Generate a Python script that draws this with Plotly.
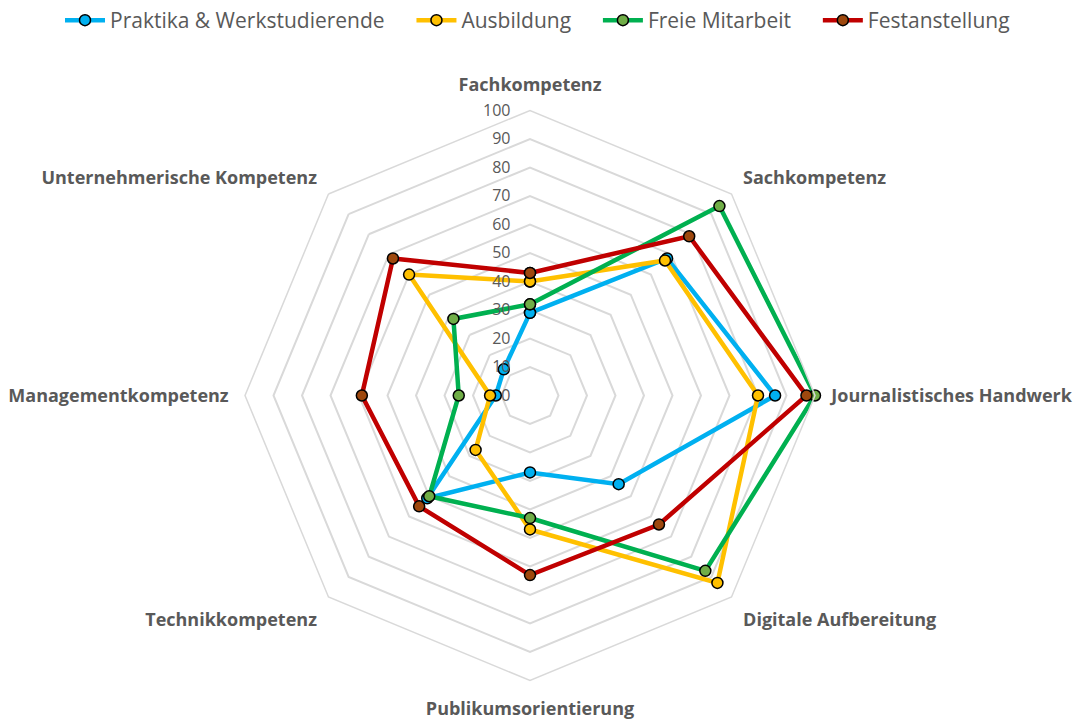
import plotly.graph_objects as go

categories = ["Fachkompetenz", "Sachkompetenz", "Journalistisches Handwerk",
              "Digitale Aufbereitung", "Publikumsorientierung", "Technikkompetenz",
              "Managementkompetenz", "Unternehmerische Kompetenz"]

praktika = [29, 68, 86, 44, 27, 51, 12, 13]
ausbildung = [40, 67, 80, 93, 47, 27, 14, 60]
freie = [32, 94, 100, 87, 43, 50, 25, 38]
fest = [43, 79, 97, 64, 63, 55, 59, 68]

series = [
    ("Praktika & Werkstudierende", praktika, "#00b0f0", "#00b0f0"),
    ("Ausbildung", ausbildung, "#ffc000", "#ffc000"),
    ("Freie Mitarbeit", freie, "#00b050", "#70ad47"),
    ("Festanstellung", fest, "#c00000", "#9e480e"),
]

FONT = "Open Sans"
GAP = "\u00a0" * 4

fig = go.Figure()
for i, (name, vals, lc, mc) in enumerate(series):
    fig.add_trace(go.Scatterpolar(
        r=vals + vals[:1],
        theta=categories + categories[:1],
        name=name + (GAP if i < len(series) - 1 else ""),
        mode="lines+markers",
        line=dict(color=lc, width=4.5),
        marker=dict(size=11, color=mc, line=dict(color="#000000", width=1.5)),
    ))

fig.update_layout(
    width=1075, height=720,
    paper_bgcolor="white", plot_bgcolor="white",
    margin=dict(l=0, r=0, t=0, b=0),
    font=dict(family=FONT, color="#595959"),
    showlegend=True,
    legend=dict(orientation="h", x=0.5, xanchor="center", y=1.0, yanchor="top",
                font=dict(size=21, color="#595959", family=FONT),
                itemwidth=40, tracegroupgap=0),
    polar=dict(
        domain=dict(x=[245/1075, 815/1075], y=[1-680.5/720, 1-110.5/720]),
        bgcolor="white",
        gridshape="linear",
        angularaxis=dict(rotation=90, direction="clockwise", showgrid=False,
                         showline=True, linecolor="#d9d9d9", linewidth=1.5,
                         ticks="outside", ticklen=12, tickcolor="rgba(0,0,0,0)",
                         tickfont=dict(size=18, color="#595959", family=FONT, weight="bold")),
        radialaxis=dict(range=[0, 100], dtick=10, angle=90, tickangle=90,
                        side="counterclockwise", ticksuffix="\u00a0" * 4,
                        showline=False, ticks="", gridcolor="#d9d9d9", gridwidth=1.5,
                        tickfont=dict(size=16, color="#595959", family=FONT)),
    ),
)

fig.write_html("out.html", config={"displayModeBar": False},
               post_script="document.body.style.margin='0px';")
